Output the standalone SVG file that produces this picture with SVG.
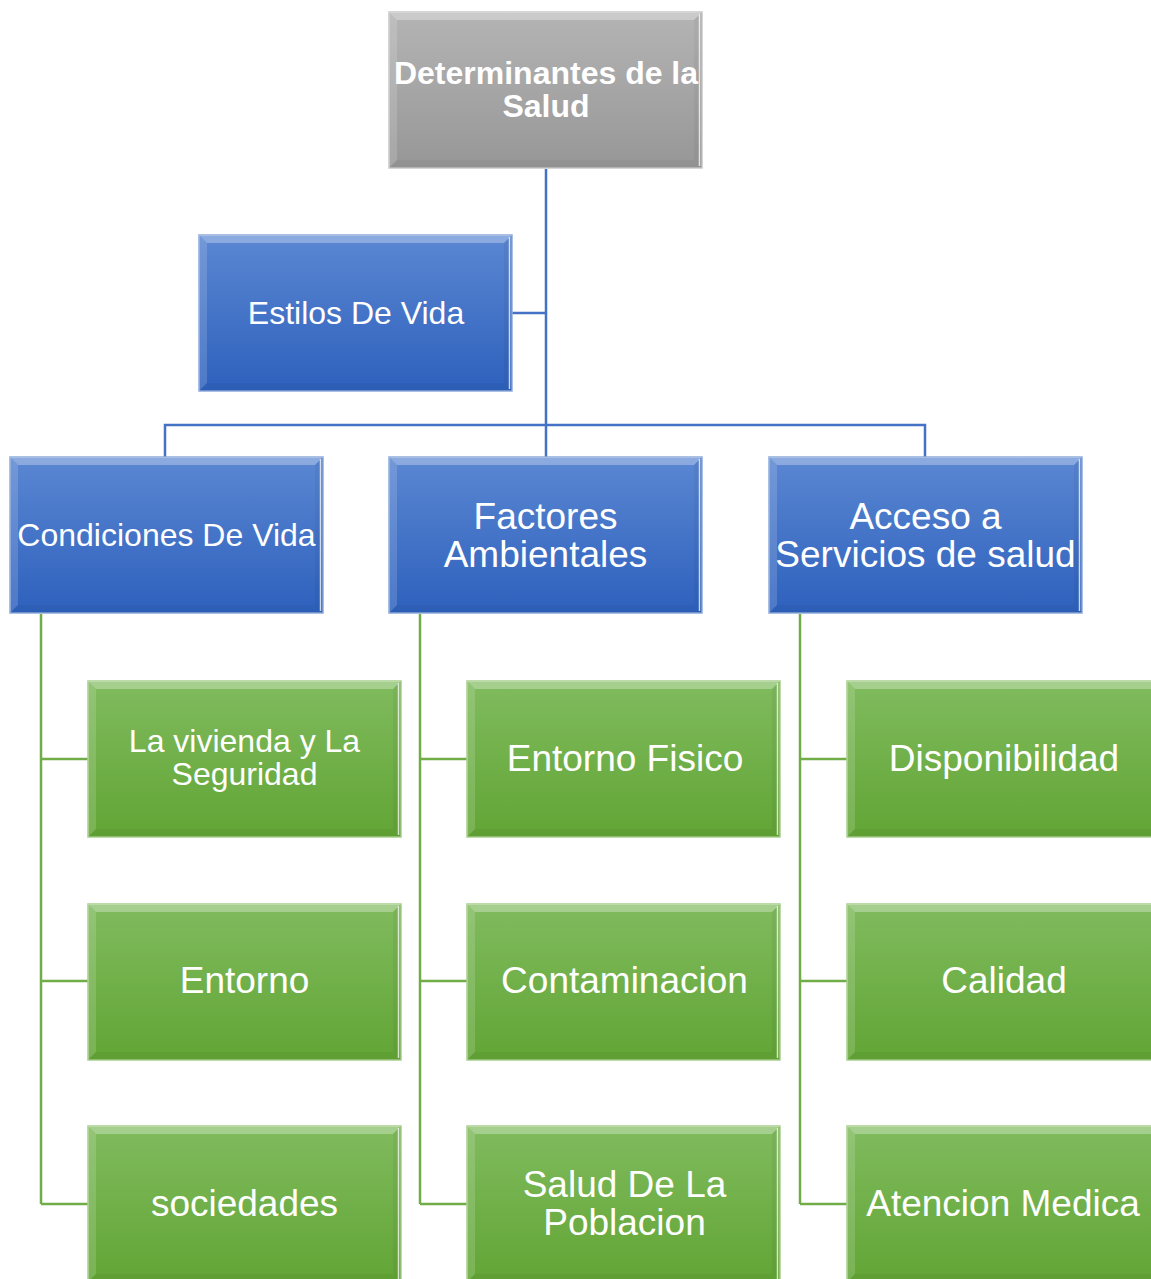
<svg xmlns="http://www.w3.org/2000/svg" xmlns:xlink="http://www.w3.org/1999/xlink" width="1151" height="1279" viewBox="0 0 1151 1279">
<style>
  .lbl{font-family:"Liberation Sans",Arial,sans-serif;fill:#fff;text-anchor:middle}
  .f36{font-size:37px}
  .f31{font-size:32px}
  .bold{font-weight:bold}
  .blue{fill:url(#gBlue);stroke:#8EAADB;stroke-width:1.5}
  .gray{fill:url(#gGray);stroke:#C8C8C8;stroke-width:1.5}
  .green{fill:url(#gGreen);stroke:#A8D08D;stroke-width:1.5}
  .cb{fill:none;stroke:#4472C4;stroke-width:2.5}
  .cg{fill:none;stroke:#70AD47;stroke-width:2.5}
</style>
<defs>
  <linearGradient id="gBlue" x1="0" y1="0" x2="0" y2="1">
    <stop offset="0" stop-color="#5B87D2"/>
    <stop offset="1" stop-color="#2E61BD"/>
  </linearGradient>
  <linearGradient id="gGray" x1="0" y1="0" x2="0" y2="1">
    <stop offset="0" stop-color="#B4B4B4"/>
    <stop offset="1" stop-color="#979797"/>
  </linearGradient>
  <linearGradient id="gGreen" x1="0" y1="0" x2="0" y2="1">
    <stop offset="0" stop-color="#80BB5E"/>
    <stop offset="1" stop-color="#62A535"/>
  </linearGradient>
  <symbol id="bevel" overflow="visible">
    <polygon points="0,0 313,0 305,8 8,8" fill="#fff" fill-opacity="0.3"/>
    <polygon points="0,0 8,8 8,148 0,156" fill="#fff" fill-opacity="0.15"/>
    <polygon points="313,0 313,156 305,148 305,8" fill="#000" fill-opacity="0.04"/>
    <polygon points="0,156 313,156 305,148 8,148" fill="#000" fill-opacity="0.04"/>
    <line x1="310.5" y1="2" x2="310.5" y2="154" stroke="#fff" stroke-opacity="0.75" stroke-width="1.5"/>
  </symbol>
</defs>
<rect width="1151" height="1279" fill="#fff"/>

<g id="connectors">
  <path class="cb" d="M546,169 V457 M165,457 V425 H925 V457 M512,313 H546"/>
  <path class="cg" d="M41,614 V1204 M41,759 H88 M41,981 H88 M41,1204 H88"/>
  <path class="cg" d="M420,614 V1204 M420,759 H467 M420,981 H467 M420,1204 H467"/>
  <path class="cg" d="M800,614 V1204 M800,759 H847 M800,981 H847 M800,1204 H847"/>
</g>

<g id="root">
  <rect class="gray" x="389" y="12" width="313" height="156"/>
  <use xlink:href="#bevel" x="389" y="12"/>
  <text class="lbl f31 bold" x="546" y="84">Determinantes de la</text>
  <text class="lbl f31 bold" x="546" y="117">Salud</text>
</g>

<g id="estilos">
  <rect class="blue" x="199" y="235" width="313" height="156"/>
  <use xlink:href="#bevel" x="199" y="235"/>
  <text class="lbl f31" x="356" y="324">Estilos De Vida</text>
</g>

<g id="condiciones">
  <rect class="blue" x="10" y="457" width="313" height="156"/>
  <use xlink:href="#bevel" x="10" y="457"/>
  <text class="lbl f31" x="166.5" y="546">Condiciones De Vida</text>
</g>

<g id="factores">
  <rect class="blue" x="389" y="457" width="313" height="156"/>
  <use xlink:href="#bevel" x="389" y="457"/>
  <text class="lbl f36" x="545.5" y="529">Factores</text>
  <text class="lbl f36" x="545.5" y="567">Ambientales</text>
</g>

<g id="acceso">
  <rect class="blue" x="769" y="457" width="313" height="156"/>
  <use xlink:href="#bevel" x="769" y="457"/>
  <text class="lbl f36" x="925.5" y="529">Acceso a</text>
  <text class="lbl f36" x="925.5" y="567">Servicios de salud</text>
</g>

<g id="vivienda">
  <rect class="green" x="88" y="681" width="313" height="156"/>
  <use xlink:href="#bevel" x="88" y="681"/>
  <text class="lbl f31" x="244.5" y="752">La vivienda y La</text>
  <text class="lbl f31" x="244.5" y="785">Seguridad</text>
</g>

<g id="entorno">
  <rect class="green" x="88" y="904" width="313" height="156"/>
  <use xlink:href="#bevel" x="88" y="904"/>
  <text class="lbl f36" x="244.5" y="993">Entorno</text>
</g>

<g id="sociedades">
  <rect class="green" x="88" y="1126" width="313" height="156"/>
  <use xlink:href="#bevel" x="88" y="1126"/>
  <text class="lbl f36" x="244.5" y="1216">sociedades</text>
</g>

<g id="entorno-fisico">
  <rect class="green" x="467" y="681" width="313" height="156"/>
  <use xlink:href="#bevel" x="467" y="681"/>
  <text class="lbl f36" x="625" y="771">Entorno Fisico</text>
</g>

<g id="contaminacion">
  <rect class="green" x="467" y="904" width="313" height="156"/>
  <use xlink:href="#bevel" x="467" y="904"/>
  <text class="lbl f36" x="624.5" y="993">Contaminacion</text>
</g>

<g id="salud-poblacion">
  <rect class="green" x="467" y="1126" width="313" height="156"/>
  <use xlink:href="#bevel" x="467" y="1126"/>
  <text class="lbl f36" x="624.5" y="1197">Salud De La</text>
  <text class="lbl f36" x="624.5" y="1235">Poblacion</text>
</g>

<g id="disponibilidad">
  <rect class="green" x="847" y="681" width="313" height="156"/>
  <use xlink:href="#bevel" x="847" y="681"/>
  <text class="lbl f36" x="1004" y="771">Disponibilidad</text>
</g>

<g id="calidad">
  <rect class="green" x="847" y="904" width="313" height="156"/>
  <use xlink:href="#bevel" x="847" y="904"/>
  <text class="lbl f36" x="1004" y="993">Calidad</text>
</g>

<g id="atencion">
  <rect class="green" x="847" y="1126" width="313" height="156"/>
  <use xlink:href="#bevel" x="847" y="1126"/>
  <text class="lbl f36" x="1003" y="1216">Atencion Medica</text>
</g>
</svg>
